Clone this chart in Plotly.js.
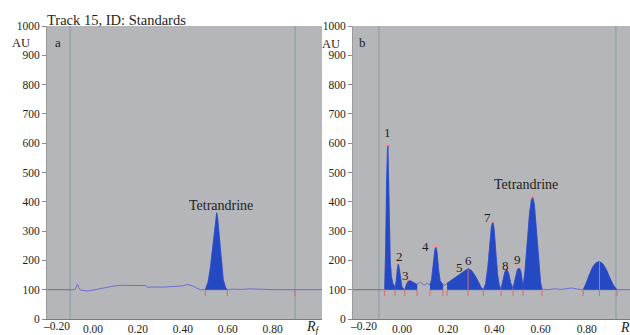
<!DOCTYPE html>
<html><head><meta charset="utf-8">
<script src="https://cdn.plot.ly/plotly-3.0.1.min.js"></script>
<style>html,body{margin:0;padding:0;background:#fff}#chart{width:630px;height:335px}</style>
</head><body><div id="chart"></div>
<script>
// ---------- data ----------
// Panel a: standard track (Rf vs AU)
const rfA = [-0.102,-0.080,-0.075,-0.071,-0.068,-0.064,-0.058,-0.045,-0.025,-0.005,
             0.030,0.060,0.090,0.120,0.180,0.235,0.244,0.260,0.320,0.375,
             0.400,0.418,0.440,0.460,0.478,0.500,0.512,0.522,0.532,0.542,
             0.548,0.551,0.555,0.562,0.570,0.580,0.590,0.598,0.620,0.660,
             0.700,0.740,0.800,0.900,1.020];
const auA = [100,100,110,118,117,108,100,97,96,98,
             104,108,112,115,115,114,108,109,109,110,
             113,118,114,106,100,100,125,170,240,320,
             352,363,345,280,200,135,108,100,102,101,
             103,101,100,100,100];
// Panel b: sample track
const rfB = [-0.100,-0.075,-0.071,-0.067,-0.064,-0.061,-0.058,-0.055,-0.051,-0.046,
             -0.040,-0.030,-0.025,-0.020,-0.016,-0.012,-0.006,0.000,0.012,0.020,
             0.028,0.035,0.042,0.052,0.065,0.072,0.080,0.090,0.100,0.110,
             0.121,0.128,0.136,0.142,0.147,0.152,0.158,0.165,0.177,0.186,
             0.195,0.210,0.230,0.250,0.270,0.286,0.300,0.315,0.330,0.342,
             0.352,0.362,0.372,0.380,0.387,0.393,0.399,0.406,0.414,0.421,
             0.429,0.436,0.445,0.453,0.461,0.470,0.481,0.490,0.500,0.508,
             0.515,0.524,0.532,0.542,0.552,0.560,0.566,0.573,0.582,0.592,
             0.600,0.606,0.630,0.660,0.690,0.715,0.735,0.760,0.784,0.795,
             0.810,0.825,0.840,0.855,0.870,0.885,0.900,0.915,0.931,0.960,
             0.990];
const auB = [100,100,230,470,570,594,480,320,200,145,
             122,108,130,172,190,172,128,108,100,120,
             130,134,128,124,118,122,126,119,116,122,
             116,135,190,235,247,225,170,130,118,115,
             122,130,141,153,165,172,166,150,128,108,
             100,120,180,260,315,332,305,230,150,115,
             104,128,160,171,158,125,106,140,170,176,
             160,110,160,260,360,405,417,390,300,190,
             125,102,100,103,101,104,106,102,100,118,
             150,177,192,196,188,168,140,115,100,101,
             100];
const baselineAU = 100;
const windowsA = [[0.500,0.598]];
const windowsB = [[-0.075,-0.030],[-0.030,0.012],[0.012,0.065],[0.121,0.177],[0.195,0.352],
                  [0.352,0.429],[0.429,0.481],[0.481,0.524],[0.524,0.606],[0.784,0.931]];
const extraMarksA = [0.90];
const originA = -0.102, frontA = 0.90;
const originB = -0.100, frontB = 0.926;
const apexLineRfB = [0.286, 0.855];
const apexLineAuB = [172, 196];
const topRfB = [-0.061,-0.016,0.035,0.147,0.393,0.453,0.508,0.566];
const topAuB = [594,190,134,247,332,171,176,417];
const labelsB   = ['1','2','3','4','5','6','7','8','9','Tetrandrine'];
const labelRfB  = [-0.061,-0.013,0.013,0.100,0.247,0.290,0.368,0.446,0.498,0.537];
const labelAuB  = [636,215,150,249,177,201,348,184,204,458];
const labelsA   = ['Tetrandrine'];
const labelRfA  = [0.571];
const labelAuA  = [389];
const xTicks = [-0.2,0,0.2,0.4,0.6,0.8];
const xTickText = ['\u20130.20','0.00','0.20','0.40','0.60','0.80'];
const yTicks = [0,100,200,300,400,500,600,700,800,900,1000];
const rangeA = [-0.205,1.02], rangeB = [-0.2121,0.987];

// ---------- styling ----------
const FONT = 'Liberation Serif, Times New Roman, serif';
const BLUE_FILL = '#2549c2';
const LINE = '#6a70d4';
const RED = '#e2676a';
const traces = [];

function addPanel(rf, au, windows, origin, front, range, xa, ya, extraMarks){
  traces.push({x:[range[0], origin], y:[baselineAU, baselineAU], xaxis:xa, yaxis:ya,
    mode:'lines', line:{color:'#6f7072', width:1}, hoverinfo:'skip', showlegend:false});
  traces.push({x:rf, y:au, xaxis:xa, yaxis:ya, mode:'lines',
    line:{color:LINE, width:1}, hoverinfo:'skip', showlegend:false});
  windows.forEach(w=>{
    const xs=[], ys=[];
    rf.forEach((v,i)=>{ if(v>=w[0]-1e-9 && v<=w[1]+1e-9){ xs.push(v); ys.push(au[i]); } });
    xs.push(w[1], w[0]); ys.push(baselineAU, baselineAU);
    traces.push({x:xs, y:ys, xaxis:xa, yaxis:ya, mode:'lines', fill:'toself',
      fillcolor:BLUE_FILL, line:{color:BLUE_FILL, width:0.5}, hoverinfo:'skip', showlegend:false});
  });
  const edges = [];
  windows.forEach(w=>{ if(!edges.includes(w[0])) edges.push(w[0]); if(!edges.includes(w[1])) edges.push(w[1]); });
  (extraMarks||[]).forEach(e=>edges.push(e));
  const mx=[], my=[];
  edges.forEach(e=>{ mx.push(e,e,null); my.push(baselineAU+2, baselineAU-22, null); });
  traces.push({x:mx, y:my, xaxis:xa, yaxis:ya, mode:'lines', line:{color:RED, width:1},
    hoverinfo:'skip', showlegend:false});
}
addPanel(rfA, auA, windowsA, originA, frontA, rangeA, 'x', 'y', extraMarksA);
addPanel(rfB, auB, windowsB, originB, frontB, rangeB, 'x2', 'y2', []);

const ax=[], ay=[];
apexLineRfB.forEach((r,i)=>{ ax.push(r,r,null); ay.push(baselineAU-22, apexLineAuB[i], null); });
traces.push({x:ax, y:ay, xaxis:'x2', yaxis:'y2', mode:'lines', line:{color:RED, width:1},
  hoverinfo:'skip', showlegend:false});
traces.push({x:topRfB, y:topAuB, xaxis:'x2', yaxis:'y2', mode:'markers',
  marker:{symbol:'line-ew', size:5, line:{color:'#ee9a9a', width:1.5}},
  hoverinfo:'skip', showlegend:false});

function vline(x, xref){ return {type:'line', xref:xref, yref:(xref==='x'?'y domain':'y2 domain'),
  x0:x, x1:x, y0:0, y1:1, line:{color:'#9aa8ae', width:2}, layer:'below'}; }

const annotations = [];
labelsB.forEach((t,i)=>annotations.push({xref:'x2', yref:'y2', x:labelRfB[i], y:labelAuB[i], text:t,
  showarrow:false, font:{family:FONT, size:(t.length>1?14:13), color:'#1e1e1e'}}));
labelsA.forEach((t,i)=>annotations.push({xref:'x', yref:'y', x:labelRfA[i], y:labelAuA[i], text:t,
  showarrow:false, font:{family:FONT, size:14, color:'#1e1e1e'}}));
// the first x tick label sits a little right of its tick in the reference: draw it at its tick, shifted
['x','x2'].forEach(xr=>annotations.push({xref:xr, yref:'paper', x:xTicks[0], y:0, yanchor:'top',
  xanchor:'center', xshift:8, yshift:1, text:xTickText[0], showarrow:false,
  font:{family:FONT, size:11.5, color:'#1e1e1e'}}));
const paperText = (x,y,t,size,xanchor)=>({xref:'paper', yref:'paper', x:x, y:y, text:t, showarrow:false,
  xanchor:xanchor||'center', yanchor:'middle', font:{family:FONT, size:size, color:'#1e1e1e'}});
annotations.push(paperText(-0.0446, 0.942, 'AU', 12.5));
annotations.push(paperText(0.487, 0.939, 'AU', 12.5));
annotations.push(paperText(0.0189, 0.942, 'a', 13));
annotations.push(paperText(0.542, 0.945, 'b', 13));
annotations.push(paperText(0.441, -0.03, '<i>R</i><sub><i>f</i></sub>', 14, 'left'));
annotations.push(paperText(0.980, -0.03, '<i>R</i>', 14, 'left'));

const xCommon = {tickvals:xTicks.slice(1), ticktext:xTickText.slice(1), ticks:'', showline:true, linecolor:'#7a7a7a',
  linewidth:1, showgrid:false, zeroline:false, tickfont:{family:FONT, size:11.5, color:'#1e1e1e'},
  ticklabelstandoff:-1, fixedrange:true};
const yCommon = {range:[0,1000], tickvals:yTicks, ticks:'outside', ticklen:4, tickcolor:'#8a8a8a',
  showline:true, linecolor:'#9a9a9a', linewidth:1, showgrid:false, zeroline:false,
  tickfont:{family:FONT, size:11.5, color:'#1e1e1e'}, ticklabelstandoff:0, fixedrange:true};

const layout = {
  width:630, height:335,
  margin:{l:47, r:0, t:26, b:16, pad:0},
  paper_bgcolor:'#ffffff', plot_bgcolor:'#b5b6b9',
  title:{text:'Track 15, ID: Standards', xref:'container', yref:'container',
    x:47/630, xanchor:'left', y:1-20/335, yanchor:'middle',
    font:{family:FONT, size:14.5, color:'#1e1e1e'}},
  xaxis:Object.assign({}, xCommon, {domain:[0,0.4717], range:rangeA, anchor:'y'}),
  yaxis:Object.assign({}, yCommon, {domain:[0,1], anchor:'x'}),
  xaxis2:Object.assign({}, xCommon, {domain:[0.5249,1], range:rangeB, anchor:'y2'}),
  yaxis2:Object.assign({}, yCommon, {domain:[0,1], anchor:'x2'}),
  shapes:[vline(originA,'x'), vline(frontA,'x'), vline(originB,'x2'), vline(frontB,'x2')],
  annotations:annotations,
  showlegend:false
};
Plotly.newPlot('chart', traces, layout, {displayModeBar:false, staticPlot:true});
</script></body></html>
